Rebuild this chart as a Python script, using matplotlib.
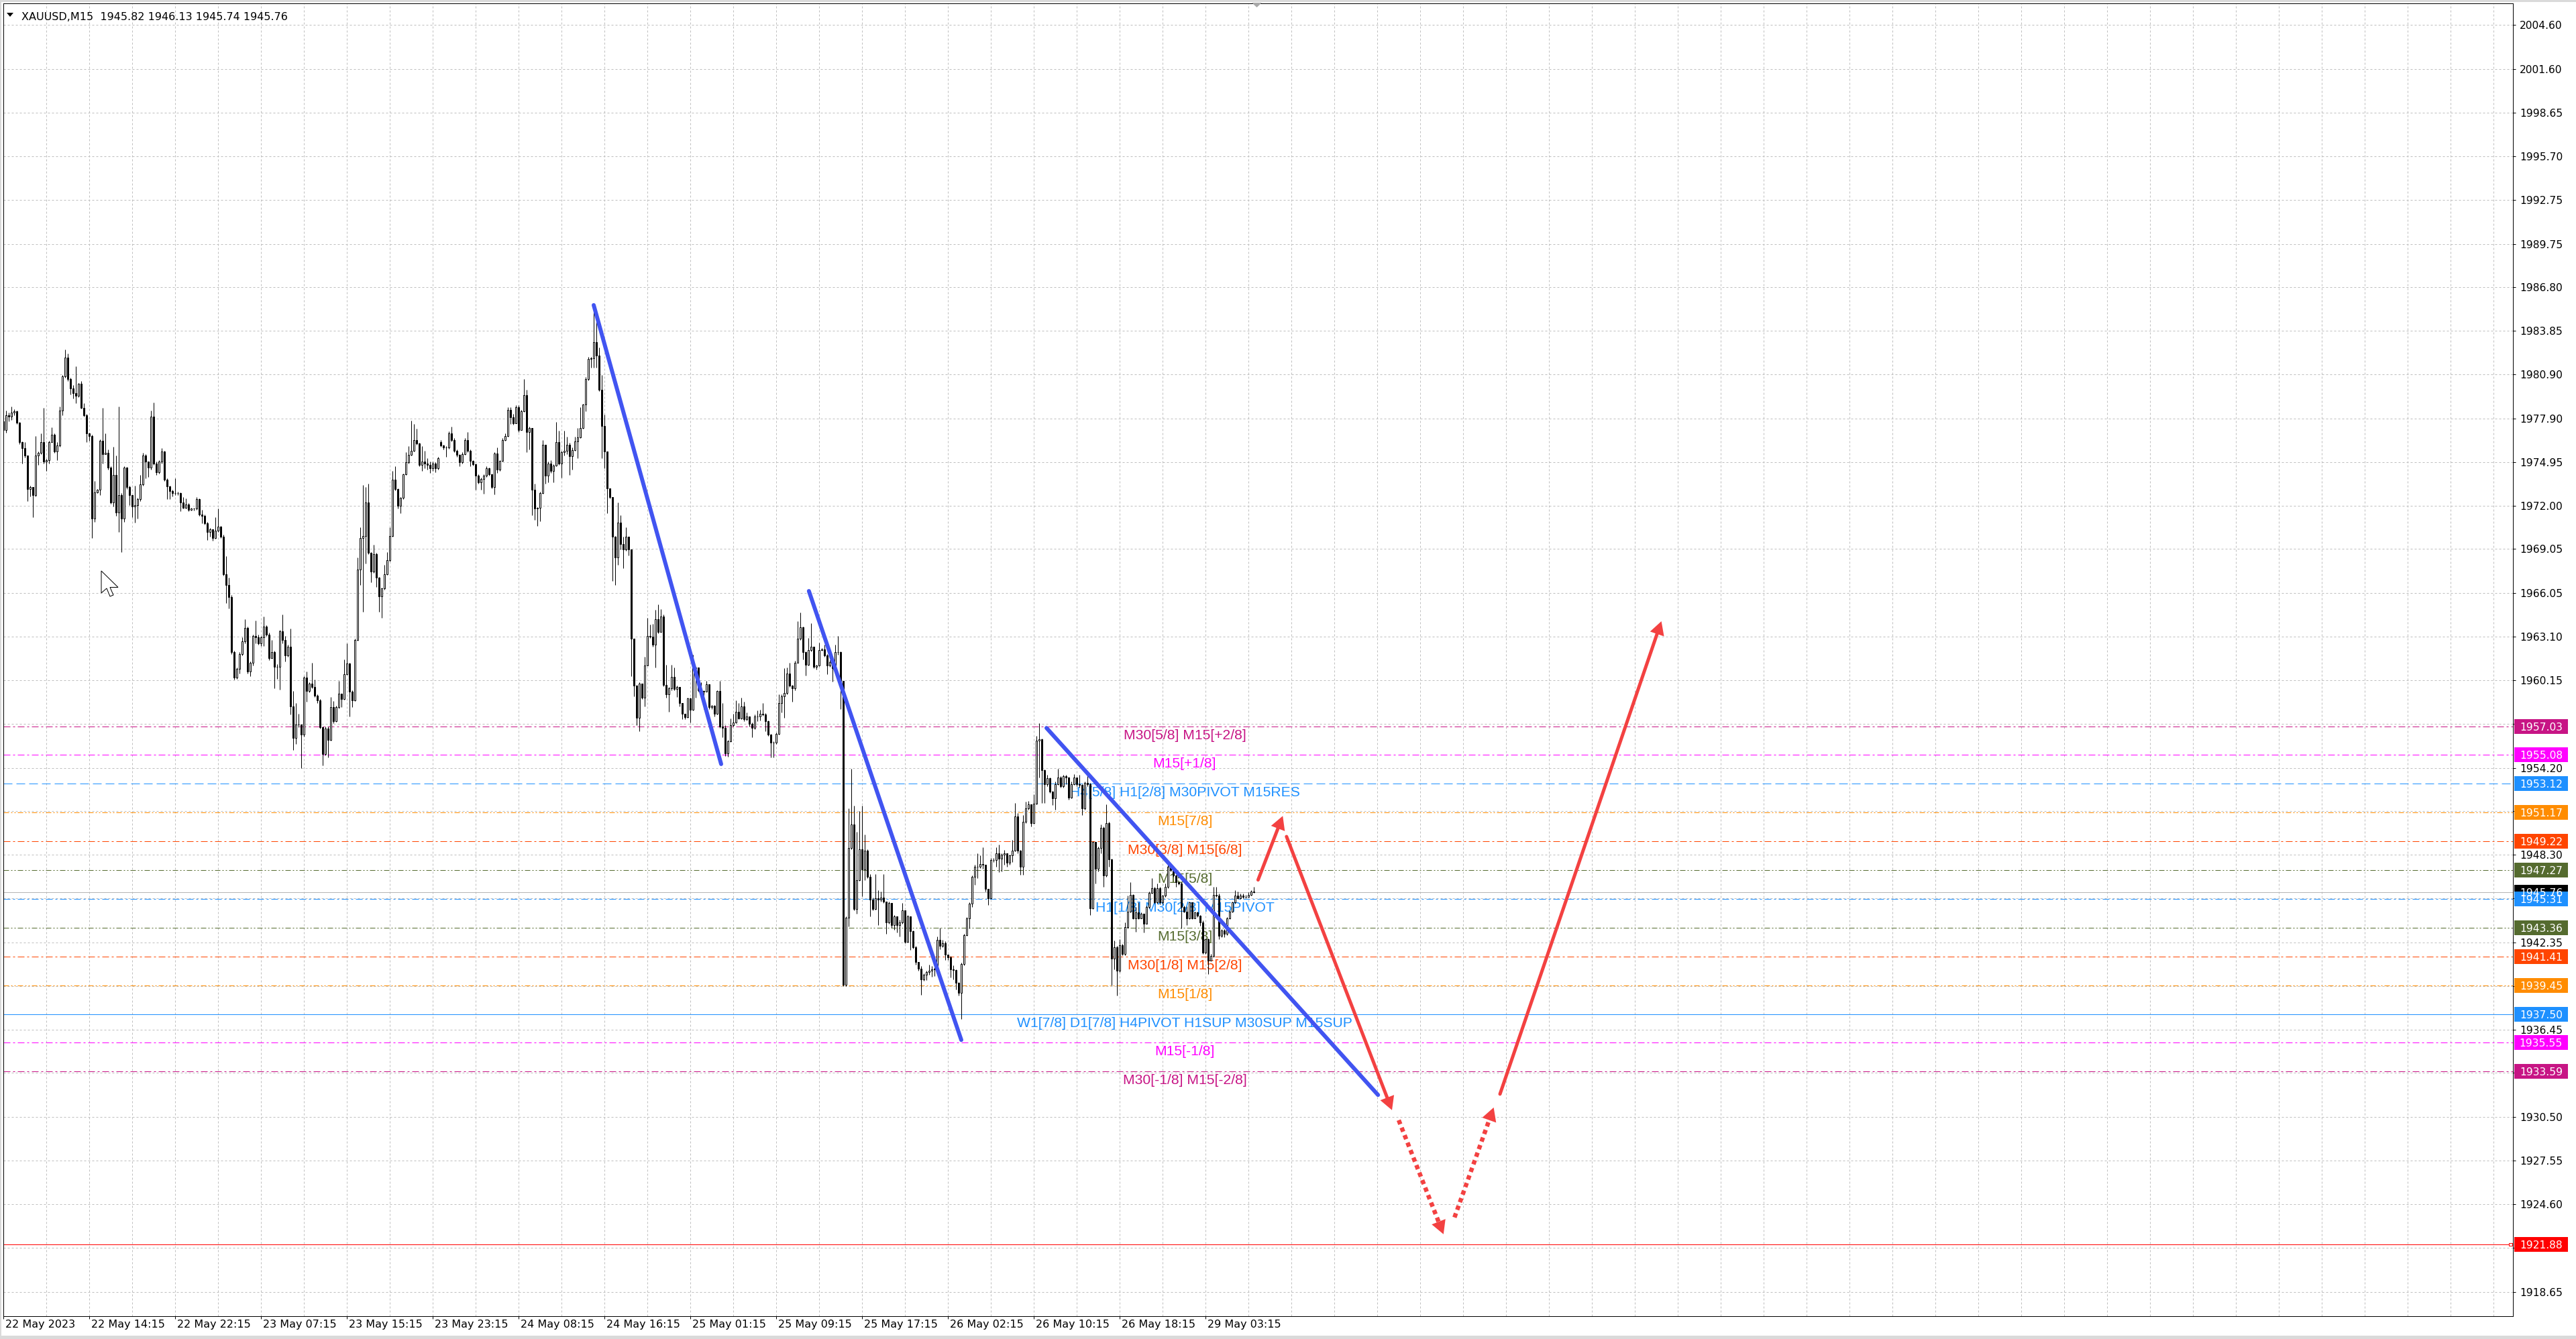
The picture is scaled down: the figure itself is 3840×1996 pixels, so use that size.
import numpy as np
import matplotlib
matplotlib.use('Agg')
import matplotlib.pyplot as plt
from matplotlib import font_manager
from matplotlib.patches import Polygon, Rectangle
import matplotlib.transforms as mtransforms

# ---------------- data ----------------
title_text = "XAUUSD,M15  1945.82 1946.13 1945.74 1945.76"

open_first = 1977.72
gap_opens = [(163, 1976.31)]

closes = [
    1977.11, 1978.13, 1978.03, 1978.33, 1978.39, 1977.62, 1976.30, 1975.89, 1975.38, 1973.14,
    1973.24, 1972.73, 1975.38, 1975.58, 1976.30, 1974.97, 1975.07, 1976.30, 1976.80, 1975.68,
    1976.09, 1978.43, 1980.77, 1982.04, 1980.57, 1979.96, 1979.65, 1979.45, 1980.27, 1978.64,
    1978.13, 1976.91, 1976.70, 1971.10, 1972.87, 1973.08, 1976.40, 1975.48, 1975.58, 1974.56,
    1972.22, 1974.06, 1971.51, 1972.73, 1971.10, 1974.56, 1973.24, 1972.73, 1971.92, 1972.02,
    1972.43, 1973.44, 1975.38, 1974.97, 1974.56, 1978.03, 1974.87, 1974.26, 1974.97, 1975.68,
    1973.75, 1973.28, 1973.00, 1972.83, 1972.83, 1972.83, 1972.22, 1971.86, 1972.08, 1971.71,
    1971.78, 1971.78, 1972.43, 1971.37, 1971.31, 1970.80, 1970.19, 1970.39, 1969.78, 1970.29,
    1970.59, 1969.88, 1967.34, 1966.62, 1965.81, 1962.08, 1960.31, 1960.92, 1961.94, 1962.80,
    1963.71, 1960.72, 1961.33, 1963.14, 1963.06, 1962.65, 1963.06, 1963.81, 1963.26, 1961.64,
    1962.04, 1961.07, 1961.07, 1963.47, 1962.86, 1961.84, 1962.41, 1958.38, 1956.24, 1957.16,
    1957.16, 1956.44, 1960.31, 1959.40, 1959.91, 1959.70, 1959.09, 1958.79, 1956.95, 1955.12,
    1956.88, 1956.08, 1958.31, 1957.35, 1958.31, 1959.22, 1958.88, 1960.58, 1961.28, 1959.37,
    1958.79, 1962.87, 1967.65, 1969.81, 1969.92, 1972.21, 1968.81, 1967.50, 1968.71, 1967.12,
    1965.84, 1966.37, 1967.33, 1968.28, 1969.92, 1973.74, 1973.10, 1972.00, 1972.53, 1974.12,
    1974.93, 1975.44, 1975.71, 1976.46, 1976.20, 1974.76, 1974.97, 1974.87, 1974.76, 1974.55,
    1974.87, 1974.55, 1975.23, 1976.08, 1975.93, 1975.93, 1976.92, 1976.46, 1975.71, 1975.44,
    1974.93, 1975.50, 1976.46, 1975.71, 1975.01, 1974.80, 1974.02, 1973.59, 1973.80, 1974.02,
    1974.55, 1974.12, 1973.27, 1975.54, 1974.44, 1975.01, 1976.46, 1976.71, 1978.47, 1977.99,
    1977.56, 1978.69, 1977.14, 1978.41, 1979.47, 1976.99, 1977.26, 1973.06, 1971.79, 1971.83,
    1972.85, 1976.14, 1974.02, 1974.87, 1974.33, 1974.72, 1976.29, 1974.87, 1975.61, 1975.71,
    1976.14, 1975.35, 1975.78, 1976.35, 1976.63, 1977.26, 1978.84, 1980.60, 1981.93, 1981.98,
    1983.08, 1982.19, 1979.85, 1977.41, 1975.67, 1973.17, 1972.59, 1969.88, 1968.50, 1970.83,
    1969.41, 1969.03, 1969.88, 1969.03, 1962.98, 1959.79, 1957.59, 1959.92, 1958.97, 1961.15,
    1963.13, 1963.09, 1962.54, 1964.28, 1963.43, 1964.48, 1959.81, 1959.21, 1959.61, 1960.36,
    1959.57, 1959.67, 1958.58, 1957.88, 1957.65, 1958.93, 1958.14, 1960.95, 1960.99, 1959.47,
    1959.41, 1959.37, 1959.86, 1958.34, 1958.42, 1957.88, 1959.41, 1956.99, 1956.90, 1955.17,
    1956.00, 1957.09, 1957.29, 1958.02, 1957.55, 1958.38, 1957.49, 1957.69, 1957.19, 1956.90,
    1957.69, 1957.69, 1957.88, 1957.82, 1957.39, 1956.44, 1955.90, 1955.90, 1956.50, 1958.58,
    1959.07, 1959.27, 1960.60, 1959.77, 1959.61, 1961.35, 1962.97, 1963.73, 1962.04, 1961.19,
    1962.18, 1962.44, 1961.05, 1961.15, 1962.18, 1962.24, 1961.85, 1961.15, 1961.39, 1960.95,
    1962.04, 1962.04, 1960.12, 1939.47, 1944.02, 1948.78, 1950.36, 1944.62, 1946.60, 1948.68,
    1947.29, 1948.58, 1946.80, 1945.27, 1944.62, 1945.35, 1945.27, 1945.41, 1945.11, 1943.73,
    1945.02, 1943.53, 1944.12, 1943.53, 1943.73, 1944.52, 1942.38, 1944.12, 1943.13, 1942.04,
    1941.05, 1940.56, 1939.87, 1940.16, 1940.36, 1940.46, 1940.52, 1940.56, 1942.54, 1942.14,
    1942.30, 1941.55, 1941.35, 1940.51, 1940.48, 1939.63, 1938.92, 1940.89, 1942.86, 1943.97,
    1944.99, 1946.81, 1947.49, 1947.49, 1947.68, 1947.65, 1945.98, 1945.34, 1947.95, 1947.95,
    1948.40, 1948.03, 1948.33, 1948.40, 1947.77, 1948.25, 1948.59, 1950.91, 1948.59, 1947.49,
    1950.53, 1951.44, 1951.71, 1950.45, 1951.77, 1956.07, 1956.15, 1954.05, 1953.11, 1953.49,
    1952.58, 1952.12, 1953.11, 1953.57, 1952.96, 1953.64, 1953.57, 1952.20, 1953.11, 1953.57,
    1953.11, 1953.03, 1951.44, 1953.19, 1953.11, 1944.69, 1949.16, 1947.34, 1948.78, 1950.15,
    1946.89, 1950.45, 1947.98, 1941.27, 1942.03, 1940.44, 1942.18, 1941.57, 1943.40, 1944.46,
    1945.60, 1944.00, 1944.38, 1944.00, 1944.31, 1943.62, 1944.76, 1945.70, 1946.05, 1945.07,
    1946.05, 1945.07, 1945.52, 1946.13, 1947.49, 1947.27, 1946.89, 1946.43, 1946.35, 1944.76,
    1944.46, 1944.00, 1945.07, 1944.00, 1944.38, 1944.15, 1943.70, 1941.65, 1942.56, 1941.12,
    1941.42, 1945.60, 1945.52, 1942.79, 1943.17, 1942.94, 1944.00, 1944.46, 1945.07, 1945.52,
    1945.37, 1945.52, 1945.44, 1945.44, 1945.60, 1945.82, 1945.76,
]

highs = [
    1977.92, 1978.43, 1978.33, 1978.74, 1978.54, 1978.43, 1977.68, 1976.34, 1976.30, 1975.32,
    1973.34, 1973.14, 1976.70, 1975.68, 1976.91, 1978.64, 1975.18, 1976.40, 1977.31, 1976.91,
    1976.30, 1978.74, 1980.88, 1982.61, 1982.30, 1980.67, 1980.16, 1981.43, 1980.33, 1980.47,
    1978.94, 1978.23, 1976.95, 1976.80, 1973.65, 1973.14, 1976.50, 1978.64, 1976.91, 1975.79,
    1974.67, 1975.99, 1975.38, 1978.74, 1972.83, 1974.67, 1974.63, 1973.34, 1972.73, 1973.34,
    1972.53, 1974.06, 1975.58, 1975.48, 1974.97, 1978.43, 1978.98, 1974.97, 1975.07, 1975.89,
    1975.72, 1973.85, 1973.34, 1973.08, 1973.85, 1972.93, 1972.87, 1972.59, 1972.47, 1972.18,
    1971.86, 1971.86, 1972.59, 1972.47, 1971.71, 1971.41, 1970.90, 1970.49, 1970.39, 1971.21,
    1971.78, 1970.63, 1970.02, 1968.56, 1967.13, 1965.91, 1962.14, 1961.02, 1962.04, 1963.06,
    1964.28, 1963.77, 1961.43, 1963.26, 1964.18, 1963.26, 1963.16, 1964.45, 1963.87, 1963.37,
    1962.86, 1962.14, 1961.23, 1963.57, 1964.59, 1963.16, 1962.55, 1963.67, 1959.40, 1958.62,
    1957.87, 1957.16, 1960.41, 1960.72, 1960.01, 1961.33, 1960.21, 1959.19, 1958.89, 1957.03,
    1957.03, 1957.03, 1959.01, 1958.73, 1958.41, 1960.11, 1959.26, 1961.55, 1962.66, 1961.32,
    1959.47, 1962.98, 1968.50, 1970.51, 1973.38, 1973.27, 1973.49, 1968.86, 1969.35, 1968.81,
    1967.16, 1966.44, 1967.97, 1968.86, 1970.51, 1974.33, 1974.65, 1973.17, 1972.59, 1974.16,
    1975.61, 1976.03, 1977.77, 1977.52, 1977.20, 1976.24, 1976.03, 1975.71, 1975.23, 1974.97,
    1974.97, 1974.93, 1975.29, 1976.46, 1976.14, 1976.03, 1977.05, 1977.35, 1976.56, 1975.82,
    1975.50, 1975.61, 1976.56, 1976.99, 1975.82, 1975.08, 1974.87, 1974.12, 1973.91, 1974.12,
    1974.65, 1974.59, 1974.16, 1975.61, 1975.93, 1975.08, 1976.56, 1976.88, 1978.69, 1978.69,
    1978.20, 1978.83, 1978.79, 1978.47, 1980.60, 1979.85, 1977.35, 1977.26, 1973.49, 1971.89,
    1972.95, 1976.46, 1976.14, 1974.97, 1975.08, 1974.80, 1977.69, 1977.10, 1975.71, 1977.10,
    1976.67, 1976.24, 1975.93, 1976.67, 1977.26, 1978.69, 1978.90, 1980.70, 1982.08, 1982.08,
    1985.27, 1985.06, 1982.72, 1980.87, 1978.16, 1975.67, 1973.10, 1972.59, 1969.92, 1972.21,
    1971.36, 1969.88, 1970.51, 1969.88, 1969.03, 1962.98, 1959.81, 1960.00, 1959.92, 1961.75,
    1964.36, 1963.92, 1963.96, 1964.91, 1965.31, 1964.95, 1964.62, 1961.19, 1959.67, 1961.19,
    1960.99, 1959.77, 1959.67, 1958.58, 1957.88, 1958.97, 1958.97, 1961.90, 1961.05, 1960.99,
    1960.00, 1959.47, 1960.12, 1959.86, 1958.48, 1958.48, 1959.47, 1960.12, 1958.62, 1957.09,
    1956.10, 1957.55, 1957.88, 1958.78, 1958.58, 1958.97, 1958.68, 1957.98, 1957.69, 1957.29,
    1957.82, 1958.08, 1958.14, 1958.58, 1957.94, 1957.43, 1956.50, 1956.00, 1956.60, 1959.21,
    1959.17, 1960.95, 1960.99, 1961.35, 1959.81, 1961.45, 1964.16, 1964.76, 1963.77, 1962.10,
    1963.03, 1964.02, 1962.44, 1961.19, 1962.70, 1962.34, 1962.54, 1961.94, 1961.51, 1961.55,
    1962.54, 1963.13, 1962.10, 1960.12, 1944.12, 1951.45, 1954.12, 1951.65, 1949.87, 1951.25,
    1951.65, 1949.67, 1948.68, 1946.99, 1945.41, 1946.99, 1945.91, 1945.81, 1946.99, 1945.11,
    1945.11, 1944.96, 1944.22, 1944.02, 1943.92, 1945.02, 1944.52, 1944.22, 1944.08, 1943.17,
    1942.14, 1941.05, 1940.76, 1940.26, 1940.46, 1940.86, 1940.76, 1940.66, 1942.74, 1943.33,
    1942.54, 1942.44, 1941.50, 1941.45, 1940.81, 1940.54, 1939.68, 1940.97, 1942.94, 1944.08,
    1945.07, 1946.89, 1947.61, 1948.40, 1948.25, 1948.83, 1947.65, 1945.98, 1948.07, 1948.10,
    1948.83, 1948.98, 1948.40, 1948.63, 1948.40, 1948.33, 1949.32, 1951.82, 1951.14, 1948.63,
    1950.99, 1951.90, 1951.97, 1951.74, 1952.43, 1956.37, 1957.24, 1956.18, 1954.10, 1953.72,
    1953.57, 1952.66, 1953.26, 1954.14, 1953.64, 1953.75, 1953.72, 1953.60, 1953.26, 1953.79,
    1953.49, 1953.75, 1953.11, 1953.26, 1953.79, 1953.19, 1949.24, 1949.16, 1948.86, 1950.38,
    1950.23, 1951.74, 1950.53, 1948.03, 1942.48, 1942.11, 1942.56, 1942.26, 1943.70, 1945.52,
    1946.46, 1945.64, 1944.76, 1945.07, 1944.38, 1944.31, 1944.84, 1945.79, 1946.73, 1946.13,
    1946.35, 1946.13, 1945.60, 1946.35, 1947.65, 1947.49, 1947.34, 1946.96, 1946.46, 1946.43,
    1944.84, 1944.79, 1945.14, 1945.10, 1944.46, 1944.46, 1944.23, 1943.85, 1942.64, 1942.64,
    1941.57, 1946.13, 1946.13, 1945.67, 1943.24, 1943.24, 1944.08, 1944.53, 1945.14, 1945.90,
    1945.82, 1945.67, 1945.67, 1945.60, 1945.75, 1945.90, 1946.13,
]

lows = [
    1976.80, 1976.95, 1977.72, 1977.82, 1978.13, 1977.52, 1976.19, 1974.87, 1975.28, 1972.32,
    1972.63, 1971.21, 1972.63, 1974.77, 1975.48, 1974.87, 1974.36, 1974.87, 1976.30, 1975.58,
    1975.07, 1975.99, 1978.13, 1980.67, 1980.47, 1979.55, 1979.25, 1978.94, 1979.35, 1978.58,
    1978.03, 1976.30, 1976.40, 1969.78, 1970.90, 1972.83, 1972.73, 1974.87, 1975.48, 1974.46,
    1972.12, 1971.92, 1971.31, 1970.19, 1968.86, 1970.90, 1973.14, 1972.02, 1971.21, 1970.84,
    1971.10, 1972.32, 1973.34, 1973.85, 1973.95, 1974.46, 1974.77, 1974.06, 1974.16, 1974.87,
    1973.65, 1972.43, 1972.43, 1972.63, 1972.73, 1972.73, 1971.61, 1971.78, 1971.82, 1971.61,
    1971.67, 1971.67, 1971.71, 1971.31, 1970.80, 1970.70, 1969.68, 1969.88, 1969.62, 1969.74,
    1970.19, 1969.78, 1967.23, 1965.40, 1965.00, 1961.94, 1960.21, 1960.25, 1960.62, 1961.84,
    1962.65, 1960.62, 1960.41, 1961.13, 1962.65, 1962.55, 1962.45, 1962.45, 1963.16, 1961.53,
    1961.64, 1959.60, 1960.25, 1959.50, 1962.65, 1961.43, 1961.74, 1957.81, 1955.43, 1955.84,
    1956.95, 1954.20, 1956.34, 1958.68, 1959.35, 1959.60, 1958.99, 1958.58, 1956.85, 1954.38,
    1955.06, 1954.91, 1956.04, 1957.24, 1957.31, 1958.24, 1958.31, 1958.84, 1960.50, 1957.67,
    1958.31, 1958.73, 1962.83, 1966.59, 1964.78, 1968.07, 1968.71, 1966.80, 1967.43, 1966.48,
    1964.78, 1964.36, 1966.31, 1967.29, 1968.22, 1969.88, 1973.02, 1971.79, 1971.47, 1972.42,
    1974.08, 1974.87, 1975.40, 1975.67, 1976.14, 1974.65, 1974.33, 1974.55, 1974.44, 1974.23,
    1974.33, 1974.27, 1974.44, 1976.00, 1975.82, 1975.29, 1975.86, 1976.35, 1975.61, 1975.29,
    1974.65, 1974.87, 1975.44, 1975.61, 1974.65, 1974.72, 1973.06, 1973.48, 1973.06, 1972.81,
    1973.95, 1974.02, 1973.17, 1972.74, 1974.23, 1974.33, 1974.97, 1976.41, 1976.67, 1977.52,
    1977.48, 1977.56, 1976.99, 1977.26, 1978.37, 1975.61, 1975.82, 1971.36, 1971.04, 1970.62,
    1970.94, 1972.81, 1973.48, 1973.59, 1974.23, 1973.59, 1974.65, 1974.76, 1973.91, 1975.40,
    1975.50, 1974.08, 1974.44, 1975.71, 1975.23, 1976.56, 1977.20, 1978.41, 1980.49, 1981.38,
    1981.34, 1981.38, 1979.75, 1975.23, 1974.55, 1971.47, 1972.47, 1966.90, 1966.59, 1967.97,
    1969.03, 1967.75, 1968.92, 1968.60, 1960.43, 1959.05, 1957.09, 1956.70, 1958.88, 1958.38,
    1961.25, 1963.03, 1962.44, 1960.99, 1963.33, 1963.43, 1959.73, 1958.97, 1958.02, 1959.47,
    1959.47, 1959.01, 1958.38, 1957.49, 1957.49, 1957.59, 1957.29, 1958.08, 1958.97, 1959.37,
    1959.37, 1958.18, 1959.37, 1958.18, 1958.18, 1957.69, 1957.82, 1956.90, 1956.30, 1955.01,
    1954.97, 1955.96, 1957.03, 1957.23, 1957.49, 1957.49, 1957.39, 1957.43, 1956.99, 1956.30,
    1956.84, 1957.39, 1957.43, 1957.75, 1956.70, 1956.36, 1954.91, 1954.91, 1955.84, 1956.44,
    1957.98, 1957.59, 1959.17, 1959.67, 1958.68, 1959.47, 1961.31, 1962.89, 1961.55, 1960.46,
    1961.15, 1962.10, 1960.95, 1960.86, 1961.11, 1962.14, 1961.75, 1960.56, 1961.05, 1960.06,
    1960.91, 1961.90, 1958.18, 1939.37, 1939.37, 1943.43, 1948.68, 1944.52, 1944.32, 1946.54,
    1945.51, 1946.60, 1946.70, 1944.12, 1944.52, 1944.56, 1943.53, 1945.11, 1945.02, 1942.94,
    1943.63, 1943.33, 1943.23, 1943.04, 1942.74, 1943.63, 1942.30, 1942.34, 1941.85, 1941.94,
    1940.86, 1940.46, 1938.78, 1939.77, 1939.81, 1940.16, 1940.01, 1940.07, 1940.52, 1941.90,
    1942.04, 1941.15, 1941.15, 1939.98, 1939.83, 1939.15, 1938.77, 1937.17, 1940.81, 1942.79,
    1943.32, 1944.76, 1946.28, 1946.73, 1947.42, 1947.34, 1945.82, 1944.91, 1945.29, 1947.80,
    1947.49, 1947.11, 1947.19, 1947.65, 1947.49, 1947.65, 1947.83, 1948.56, 1948.40, 1946.96,
    1946.96, 1950.45, 1951.37, 1950.23, 1950.45, 1951.74, 1953.57, 1951.82, 1951.82, 1952.96,
    1952.50, 1951.67, 1951.37, 1953.03, 1952.88, 1952.88, 1953.11, 1952.05, 1952.12, 1953.03,
    1952.96, 1952.88, 1950.99, 1951.37, 1952.96, 1944.23, 1944.61, 1946.35, 1947.19, 1948.40,
    1946.13, 1946.81, 1947.49, 1939.45, 1940.51, 1938.77, 1940.36, 1941.50, 1941.50, 1943.32,
    1944.38, 1943.93, 1943.09, 1943.93, 1944.15, 1943.02, 1943.62, 1944.69, 1945.67, 1944.99,
    1944.99, 1944.94, 1944.94, 1945.44, 1946.05, 1947.19, 1946.81, 1946.13, 1946.28, 1943.32,
    1944.38, 1943.55, 1943.93, 1943.93, 1944.28, 1944.08, 1943.47, 1941.57, 1941.57, 1940.21,
    1941.35, 1941.35, 1945.44, 1942.56, 1942.71, 1942.71, 1942.86, 1943.93, 1944.38, 1944.99,
    1945.29, 1945.29, 1945.37, 1945.37, 1945.49, 1945.55, 1945.74,
]

# x axis: bar index -> label
xtick_bars = [0, 32, 64, 96, 128, 160, 192, 224, 256, 288, 320, 352, 384, 416, 448]
xtick_labels = ["22 May 2023", "22 May 14:15", "22 May 22:15", "23 May 07:15", "23 May 15:15",
                "23 May 23:15", "24 May 08:15", "24 May 16:15", "25 May 01:15", "25 May 09:15",
                "25 May 17:15", "26 May 02:15", "26 May 10:15", "26 May 18:15", "29 May 03:15"]

ytick_vals = [2004.60, 2001.60, 1998.65, 1995.70, 1992.75, 1989.75, 1986.80, 1983.85, 1980.90,
              1977.90, 1974.95, 1972.00, 1969.05, 1966.05, 1963.10, 1960.15, 1957.20, 1954.20,
              1951.25, 1948.30, 1945.35, 1942.35, 1939.40, 1936.45, 1933.50, 1930.50, 1927.55,
              1924.60, 1921.65, 1918.65]

level_vals = [1957.03, 1955.08, 1953.12, 1951.17, 1949.22, 1947.27, 1945.31, 1943.36,
              1941.41, 1939.45, 1937.50, 1935.55, 1933.59]
level_names = ["M30[5/8] M15[+2/8]", "M15[+1/8]", "H4[5/8] H1[2/8] M30PIVOT M15RES", "M15[7/8]",
               "M30[3/8] M15[6/8]", "M15[5/8]", "H1[1/8] M30[2/8] M15PIVOT", "M15[3/8]",
               "M30[1/8] M15[2/8]", "M15[1/8]", "W1[7/8] D1[7/8] H4PIVOT H1SUP M30SUP M15SUP",
               "M15[-1/8]", "M30[-1/8] M15[-2/8]"]
level_colors = ['#C71585', '#FF00FF', '#1E90FF', '#FF8C00', '#FF4500', '#556B2F', '#1E90FF',
                '#556B2F', '#FF4500', '#FF8C00', '#1E90FF', '#FF00FF', '#C71585']
level_styles = ['dashdot', 'dashdot', 'dash', 'dashdotdot', 'dashdot', 'dashdotdot', 'dashdot',
                'dashdotdot', 'dashdot', 'dashdotdot', 'solid', 'dashdot', 'dashdot']

bid_price = 1945.76
alert_price = 1921.88

badge_vals = [1957.03, 1955.08, 1953.12, 1951.17, 1949.22, 1947.27, 1945.76, 1945.31,
              1943.36, 1941.41, 1939.45, 1937.50, 1935.55, 1933.59, 1921.88]
badge_colors = ['#C71585', '#FF00FF', '#1E90FF', '#FF8C00', '#FF4500', '#556B2F', '#000000',
                '#1E90FF', '#556B2F', '#FF4500', '#FF8C00', '#1E90FF', '#FF00FF', '#C71585', '#FF0000']

# analyst drawings (bar index, price)
blue_lines = [((220.0, 1985.60), (267.5, 1954.46)),
              ((300.2, 1966.20), (357.0, 1935.74)),
              ((388.75, 1956.91), (512.3, 1932.01))]
red_arrows = [((467.6, 1946.60), (476.8, 1950.94), False),
              ((478.2, 1949.54), (517.5, 1930.98), False),
              ((520.0, 1930.30), (536.7, 1922.56), True),
              ((540.8, 1923.70), (555.4, 1931.16), True),
              ((557.75, 1932.07), (617.9, 1964.15), False)]

# ---------------- figure ----------------
plt.rcParams['lines.scale_dashes'] = False
W, H, DPI = 3840, 1996, 100
PT = 72.0 / DPI

avail = {f.name for f in font_manager.fontManager.ttflist}
if 'Liberation Sans Narrow' in avail:
    AXF, AXS = 'Liberation Sans Narrow', 1.0
else:
    AXF, AXS = 'DejaVu Sans', 0.72
LBLF = 'Liberation Sans' if 'Liberation Sans' in avail else 'DejaVu Sans'

fig = plt.figure(figsize=(W / DPI, H / DPI), dpi=DPI)
fig.patch.set_facecolor('white')
L, R, T, B = 5, 3746, 5, 1962
ax = fig.add_axes([L / W, 1 - B / H, (R - L) / W, (B - T) / H])
ax.set_facecolor('white')
XMAX = (R - L) / 4.0
ax.set_xlim(0, XMAX)
PPU = 21.97
REF_Y, REF_P = 1082.5, 1957.03
ax.set_ylim(REF_P - (B - REF_Y) / PPU, REF_P + (REF_Y - T) / PPU)


def dpx(*a):
    return (0, tuple(v * PT for v in a))


STYLES = {'solid': '-', 'dash': dpx(13, 6), 'dashdot': dpx(10, 4, 3, 4),
          'dashdotdot': dpx(8, 3, 2, 3, 2, 3)}

GRID = '#BEBEBE'
for v in ytick_vals:
    ax.axhline(v, color=GRID, lw=PT, linestyle=dpx(3, 3), zorder=1)
for k in range(16, int(XMAX) + 1, 16):
    ax.axvline(k, color=GRID, lw=PT, linestyle=dpx(3, 3), zorder=1)

LABEL_X = 440.25
for v, name, col, st in zip(level_vals, level_names, level_colors, level_styles):
    ax.axhline(v, color=col, lw=PT, linestyle=STYLES[st], zorder=2)
    ax.text(LABEL_X, v - 19.0 / PPU, name, color=col, fontsize=15.2, family=LBLF,
            ha='center', va='baseline', zorder=3)

ax.axhline(bid_price, color='#B4B4B4', lw=PT, zorder=2)
ax.axhline(alert_price, color='#FF0000', lw=PT, zorder=2)

# candles
n = min(len(closes), len(highs), len(lows))
c = np.array(closes[:n])
o = np.concatenate([[open_first], c[:-1]])
for i, ov in gap_opens:
    o[i] = ov
hi = np.maximum(np.array(highs[:n]), np.maximum(o, c))
lo = np.minimum(np.array(lows[:n]), np.minimum(o, c))
x = np.arange(n)
ax.vlines(x, lo, hi, color='black', lw=PT, zorder=5)
up = c >= o
ax.bar(x, np.abs(c - o), bottom=np.minimum(o, c), width=0.5,
       color=np.where(up, 'white', 'black'), edgecolor='black', linewidth=PT, zorder=6)

BLUE = '#4154F1'
RED = '#F34141'
for (x0, y0), (x1, y1) in blue_lines:
    ax.plot([x0, x1], [y0, y1], color=BLUE, lw=6 * PT, solid_capstyle='round', zorder=8)

HEAD_L, HEAD_W = 20.0, 11.0


def arrow(x0, y0, x1, y1, dotted):
    p0 = ax.transData.transform((x0, y0))
    p1 = ax.transData.transform((x1, y1))
    d = p1 - p0
    u = d / np.hypot(d[0], d[1])
    nv = np.array([-u[1], u[0]])
    base = p1 - u * HEAD_L
    tri = np.vstack([p1, base + nv * HEAD_W, base - nv * HEAD_W])
    inv = ax.transData.inverted()
    ax.add_patch(Polygon(inv.transform(tri), closed=True, facecolor=RED,
                         edgecolor='none', zorder=9))
    se = inv.transform(base + u * 1.0)
    if dotted:
        ax.plot([x0, se[0]], [y0, se[1]], color=RED, lw=6.5 * PT,
                linestyle=dpx(6.5, 5.5), dash_capstyle='butt', zorder=9)
    else:
        ax.plot([x0, se[0]], [y0, se[1]], color=RED, lw=5 * PT,
                solid_capstyle='round', zorder=9)


for (x0, y0), (x1, y1), dotted in red_arrows:
    arrow(x0, y0, x1, y1, dotted)

# axes styling
for s in ax.spines.values():
    s.set_color('black')
    s.set_linewidth(PT)
ax.yaxis.tick_right()
ax.set_yticks(ytick_vals)
ax.set_yticklabels(['%.2f' % v for v in ytick_vals], fontsize=15.5 * AXS, family=AXF)
ax.tick_params(axis='y', direction='out', length=4 * PT, width=PT, pad=6 * PT, colors='black')
ax.set_xticks(xtick_bars)
ax.set_xticklabels(xtick_labels, fontsize=16 * AXS, family=AXF)
ax.tick_params(axis='x', direction='out', length=4 * PT, width=PT, pad=0.5 * PT, colors='black')
off = mtransforms.ScaledTranslation(3.0 / DPI, 0, fig.dpi_scale_trans)
for lab in ax.get_xticklabels():
    lab.set_horizontalalignment('left')
    lab.set_transform(lab.get_transform() + off)

# price badges on the right scale
blend = mtransforms.blended_transform_factory(ax.transAxes, ax.transData)
AXW = float(R - L)
bx0 = (3748 - L) / AXW
bw = 80 / AXW
bh = 11.0 / PPU
for v, col in zip(badge_vals, badge_colors):
    ax.add_patch(Rectangle((bx0, v - bh), bw, 2 * bh, transform=blend, facecolor=col,
                           edgecolor='none', clip_on=False, zorder=20))
    ax.text(bx0 + bw / 2, v, '%.2f' % v, transform=blend, color='white', ha='center',
            va='center_baseline', fontsize=15.5 * AXS, family=AXF, zorder=21, clip_on=False)


def fpx(pts):
    return [(px / W, 1 - py / H) for px, py in pts]


# small alert marker at the right end of the red line
ya = REF_Y + (REF_P - alert_price) * PPU
fig.patches.append(Polygon(fpx([(3740, ya - 2), (3745, ya - 2), (3745, ya + 2), (3740, ya + 2)]),
                           closed=True, facecolor='white', edgecolor='#FF0000', lw=PT,
                           transform=fig.transFigure, figure=fig, zorder=30))

# title and little triangle
fig.text(32 / W, 1 - 30 / H, title_text, fontsize=16 * AXS, family=AXF, color='black',
         ha='left', va='baseline')
fig.patches.append(Polygon(fpx([(10, 19), (20, 19), (15, 25)]), closed=True, facecolor='black',
                           edgecolor='none', transform=fig.transFigure, figure=fig))
# chart shift marker at top
fig.patches.append(Polygon(fpx([(1866, 4), (1881, 4), (1873.5, 11)]), closed=True,
                           facecolor='#A8A8A8', edgecolor='none', transform=fig.transFigure,
                           figure=fig, zorder=30))
# mouse cursor
cx, cy = 151, 851
cur = [(0, 0), (0, 33), (8, 26), (13, 38), (18, 36), (13, 24.5), (25, 24.5)]
fig.patches.append(Polygon(fpx([(cx + a, cy + b) for a, b in cur]), closed=True,
                           facecolor='white', edgecolor='black', lw=PT,
                           transform=fig.transFigure, figure=fig, zorder=30))
# window edges
for (x0, y0, ww, hh) in [(0, 0, W, 3), (0, H - 5, W, 5), (0, 0, 2, H)]:
    fig.patches.append(Rectangle((x0 / W, 1 - (y0 + hh) / H), ww / W, hh / H,
                                 facecolor='#DADADA', edgecolor='none',
                                 transform=fig.transFigure, figure=fig, zorder=0))

fig.savefig('out.png', dpi=DPI, facecolor='white')
